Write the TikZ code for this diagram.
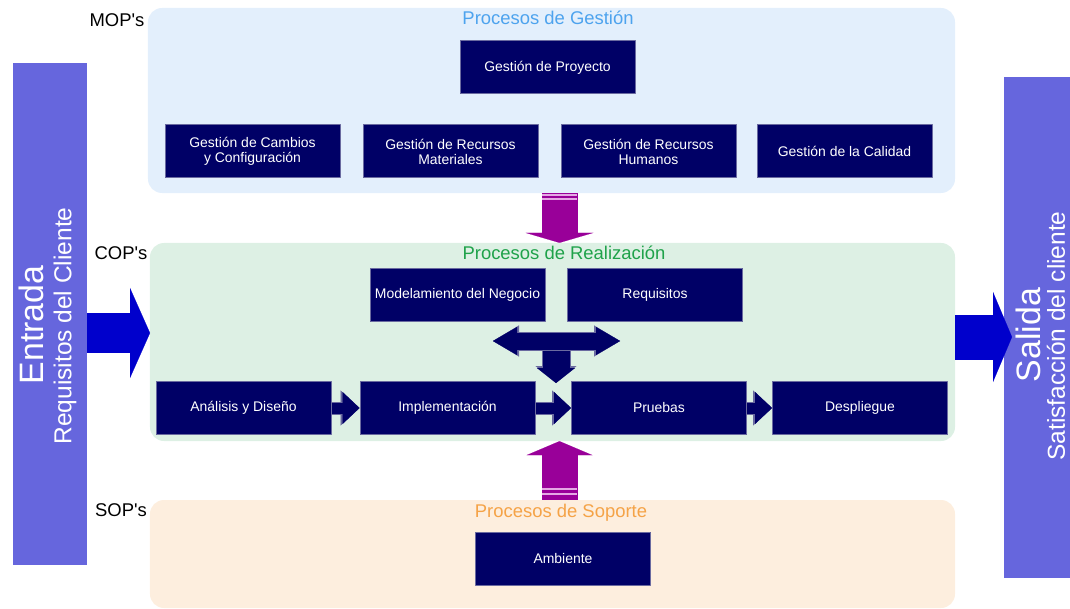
\documentclass[tikz,border=0pt]{standalone}
\usepackage{fontspec}
\setmainfont{Liberation Sans}
\newfontfamily\opfont{Liberation Sans}
\usetikzlibrary{arrows.meta}

\definecolor{barblue}{HTML}{6666DD}
\definecolor{gestbg}{HTML}{E3EFFC}
\definecolor{realbg}{HTML}{DDF0E4}
\definecolor{sopbg}{HTML}{FDEEDE}
\definecolor{gesttitle}{HTML}{4DA3EE}
\definecolor{realtitle}{HTML}{1FA24A}
\definecolor{soptitle}{HTML}{F5A347}
\definecolor{procnavy}{HTML}{000066}
\definecolor{procline}{HTML}{6A6AA0}
\definecolor{flowblue}{HTML}{0000CC}
\definecolor{magarrow}{HTML}{990099}
\definecolor{magstripe}{HTML}{E4A8E4}

\begin{document}
\begin{tikzpicture}[x=1bp,y=-1bp,line join=bevel,
  proc/.style={draw=procline,line width=1bp,fill=procnavy,text=white,minimum width=175bp,minimum height=53bp,inner sep=0pt,align=center,font=\fontsize{14}{15}\selectfont},
  panel/.style={rounded corners=14bp,minimum width=805bp,inner sep=0pt},
  title/.style={inner sep=0pt,font=\fontsize{18.5}{20}\selectfont},
  oplabel/.style={inner sep=0pt,font=\opfont\fontsize{18.5}{20}\selectfont},
  sidebar/.style={fill=barblue,inner sep=0pt},
  navyarr/.style={draw=procnavy,line width=11bp,preaction={draw=procline,line width=13bp,-{Triangle[length=19bp,width=35bp,line width=0.1pt]}},-{Triangle[length=17bp,width=32bp,line width=0.1pt]}},
  magarr/.style={draw=magarrow,line width=36bp},
  bigarr/.style={draw=flowblue}]
\useasboundingbox (0,0) rectangle (1070,609);
%%
\node (panel_gest) at (551.5,100.5) [panel,fill=gestbg,minimum width=807bp,minimum height=185bp] {};
  \node (panel_real) at (552.5,342) [panel,fill=realbg,minimum height=198bp] {};
  \node (panel_sop) at (552.5,554) [panel,fill=sopbg,minimum height=108bp] {};
%
\node (node_entrada) at (50,314) [sidebar,minimum width=74bp,minimum height=502bp] {};
  \node (node_salida) at (1037,327.5) [sidebar,minimum width=66bp,minimum height=501bp] {};
  \node (txt_entrada) at (31,325) [rotate=90,inner sep=0pt,text=white,font=\fontsize{34}{36}\selectfont] {Entrada};
  \node (txt_req) at (65,326) [rotate=90,inner sep=0pt,text=white,font=\fontsize{24.6}{26}\selectfont] {Requisitos del Cliente};
  \node (txt_salida) at (1028,335) [rotate=90,inner sep=0pt,text=white,font=\fontsize{34}{36}\selectfont] {Salida};
  \node (txt_satis) at (1056,336) [rotate=90,inner sep=0pt,text=white,font=\fontsize{24.6}{26}\selectfont] {Satisfacción del cliente};
%
\node (lbl_mop) at (117,20) [oplabel] {MOP's};
  \node (lbl_cop) at (121,253) [oplabel] {COP's};
  \node (lbl_sop) at (121,510) [oplabel] {SOP's};
  \node (ttl_gest) at (548,18) [title,text=gesttitle] {Procesos de Gestión};
  \node (ttl_real) at (564,253) [title,text=realtitle] {Procesos de Realización};
  \node (ttl_sop) at (561,513) [title,text=soptitle] {Procesos de Soporte};
%
\node (node_proy) at (547.5,67.5) [proc] {Gestión de Proyecto};
  \node (node_cambios) at (252.5,151.5) [proc] {Gestión de Cambios\\y Configuración};
  \node (node_mat) at (450.5,151.5) [proc] {Gestión de Recursos\\Materiales};
  \node (node_hum) at (648.5,151.5) [proc] {Gestión de Recursos\\Humanos};
  \node (node_cal) at (844.5,151.5) [proc] {Gestión de la Calidad};
  \node (node_neg) at (457.5,295) [proc] {Modelamiento del Negocio};
  \node (node_req) at (655,295) [proc] {Requisitos};
  \node (node_ana) at (243.5,408) [proc] {Análisis y Diseño};
  \node (node_imp) at (447.5,408) [proc] {Implementación};
  \node (node_pru) at (659,408) [proc] {Pruebas};
  \node (node_des) at (860,408) [proc] {Despliegue};
  \node (node_amb) at (563,558.5) [proc] {Ambiente};
%
\coordinate (in_tip) at (150,333);
  \coordinate (out_tip) at (1012,337);
  \coordinate (mag_x) at (559.5,0);
  \coordinate (t_left) at (493,341);
  \coordinate (t_right) at (620,341);
  \coordinate (t_mid) at (556,346);
  \coordinate (t_tip) at (556,383);
  \draw [bigarr,line width=40bp,-{Triangle[length=20bp,width=90bp,line width=0.1pt]}] (node_entrada.east |- in_tip) -- (in_tip);
  \draw [bigarr,line width=45bp,-{Triangle[length=19bp,width=90bp,line width=0.1pt]}] (panel_real.east |- out_tip) -- (out_tip);
  \draw [magarr,-{Triangle[length=10bp,width=68bp,line width=0.1pt]}] (panel_gest.south -| mag_x) -- (panel_real.north -| mag_x);
  \draw [magarr,-{Triangle[length=14bp,width=66bp,line width=0.1pt]}] (panel_sop.north -| mag_x) -- (panel_real.south -| mag_x);
  \foreach \yy in {195,199,489,494}
    \draw [magstripe,line width=1.5bp] (542,\yy) -- (577,\yy);
  \draw [navyarr] (node_ana) -- (node_imp);
  \draw [navyarr] (node_imp) -- (node_pru);
  \draw [navyarr] (node_pru) -- (node_des);
  \draw [draw=procnavy,line width=27bp,preaction={draw=procline,line width=29bp,-{Triangle[length=17bp,width=41bp,line width=0.1pt]}},-{Triangle[length=15bp,width=38bp,line width=0.1pt]}] (t_mid) -- (t_tip);
  \draw [draw=procnavy,line width=17bp,preaction={draw=procline,line width=19bp,{Triangle[length=26bp,width=31bp,line width=0.1pt]}-{Triangle[length=26bp,width=31bp,line width=0.1pt]}},{Triangle[length=24bp,width=28bp,line width=0.1pt]}-{Triangle[length=24bp,width=28bp,line width=0.1pt]}] (t_left) -- (t_right);
%
\end{tikzpicture}
\end{document}
